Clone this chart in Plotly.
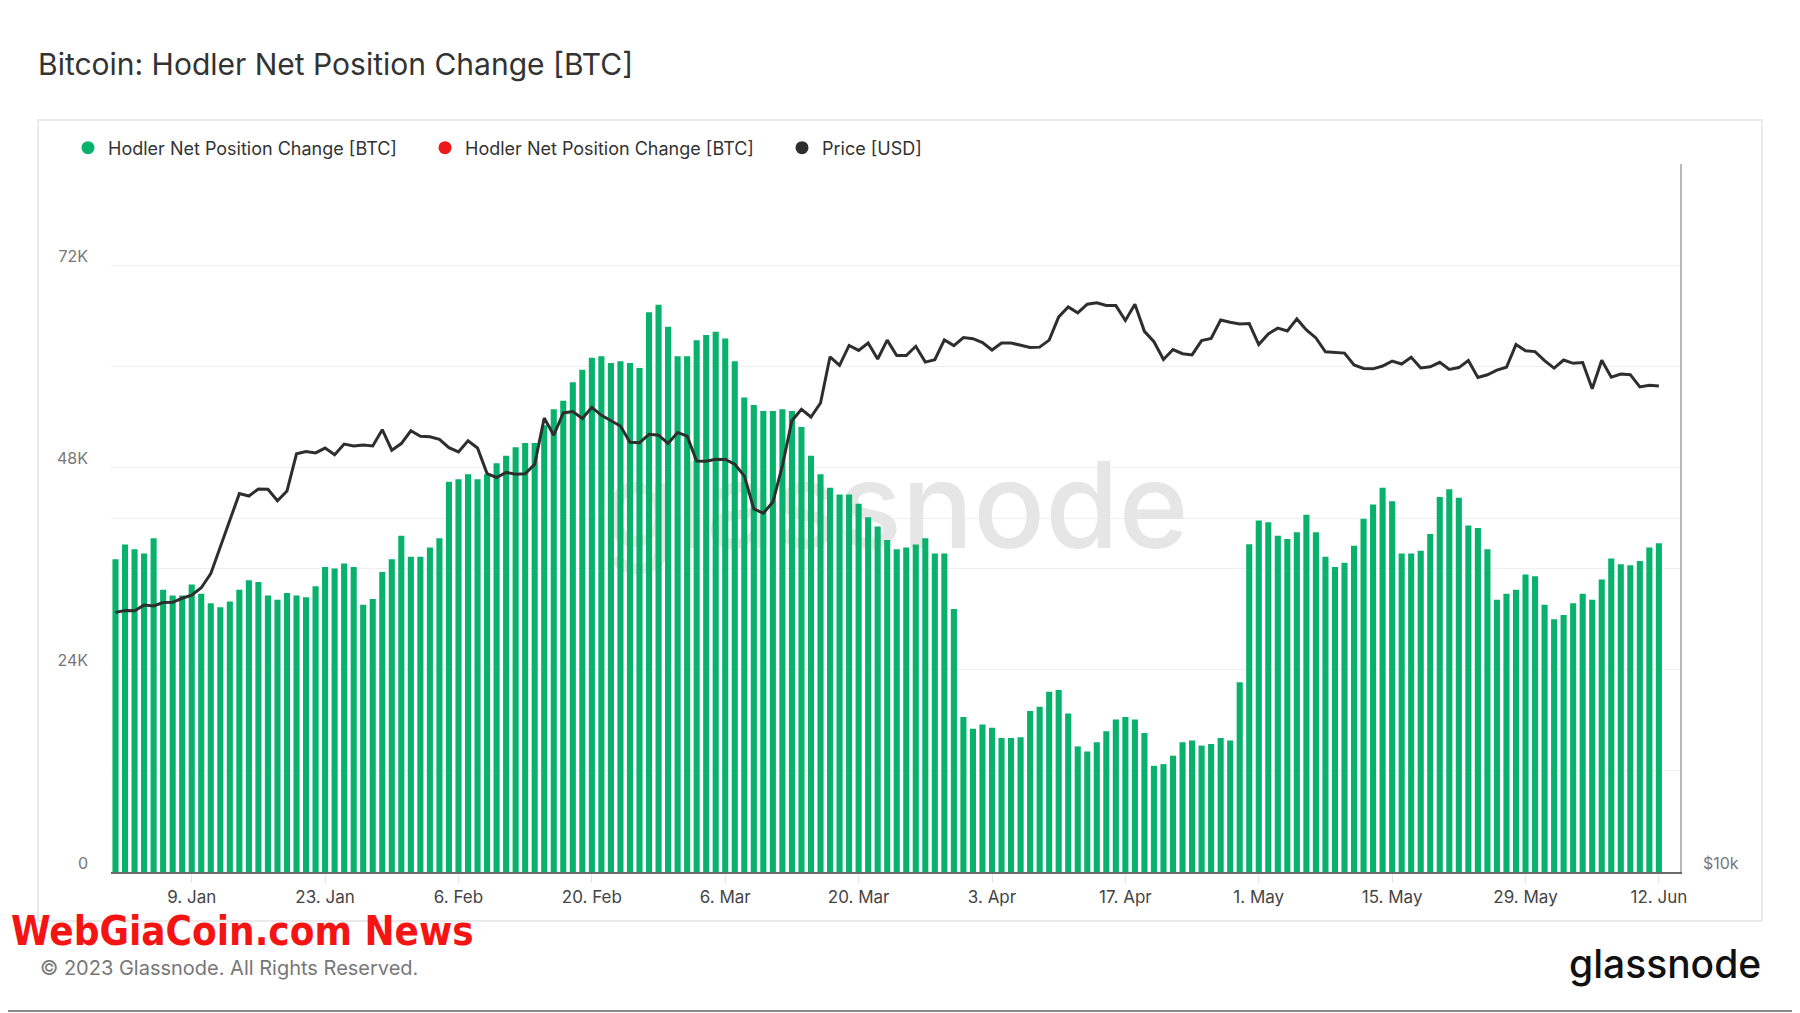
import math
import pandas as pd
import plotly.graph_objects as go

# ---------------- data ----------------
start_date = "2023-01-01"
n_days = 163
dates = pd.date_range(start_date, periods=n_days, freq="D")

# Hodler Net Position Change [BTC], in thousands
net_change_k = [
    37.1, 38.85, 38.3, 37.8, 39.6, 33.5, 32.8, 32.8, 34.1, 33.0,
    31.9, 31.4, 32.1, 33.5, 34.6, 34.4, 32.8, 32.3, 33.1, 32.8,
    32.6, 33.9, 36.2, 36.0, 36.6, 36.2, 31.7, 32.4, 35.6, 37.1,
    39.9, 37.4, 37.4, 38.5, 39.6,
    46.3, 46.6, 47.2, 46.6, 47.2,
    48.5, 49.4, 50.4, 50.9, 50.9, 53.0, 54.9, 55.9, 58.1, 59.6,
    61.0, 61.2, 60.4, 60.6, 60.4, 59.8, 66.4, 67.3, 64.7, 61.2,
    61.2, 63.1, 63.7, 64.1, 63.3, 60.6, 56.3, 55.4,
    54.7, 54.7, 54.9, 54.7, 52.8, 49.4,
    47.2, 45.6, 44.8, 44.8, 43.7, 42.1, 41.0, 39.4, 38.3, 38.5,
    38.85, 39.6, 37.8, 37.8, 31.2,
    18.4, 17.0, 17.5, 17.1, 15.9, 15.9, 16.0, 19.1, 19.6, 21.4,
    21.6, 18.8, 14.9, 14.3, 15.4, 16.7, 18.1, 18.4, 18.1, 16.5,
    12.6, 12.8, 13.8, 15.4, 15.6, 15.0, 15.2, 15.9, 15.6, 22.5,
    38.9, 41.7, 41.5, 39.9, 39.5, 40.3, 42.4, 40.3, 37.4, 36.2,
    36.7, 38.7, 41.9, 43.6, 45.6, 44.0, 37.8, 37.8, 38.1, 40.1,
    44.5, 45.4, 44.4, 41.1, 40.8, 38.3, 32.3, 33.0, 33.5, 35.3,
    35.1, 31.7, 30.0, 30.5, 31.9, 33.0, 32.3, 34.7, 37.2, 36.5,
    36.4, 36.9, 38.5, 39.0,
]

# Price [USD]
price_usd = [
    16625, 16688, 16680, 16863, 16836, 16951, 16955, 17091, 17196, 17446,
    17934, 18869, 19910, 20977, 20880, 21170, 21161, 20688, 21086, 22676,
    22777, 22720, 22934, 22636, 23117, 23033, 23078, 23031, 23774, 22840,
    23139,
    23723, 23471, 23449, 23331, 22955, 22760, 23264, 22939, 21819, 21651,
    21870, 21788, 21808, 22220, 24327, 23517, 24569, 24631, 24307, 24840,
    24451, 24188, 23947, 23199, 23175, 23561, 23523, 23147,
    23646, 23476, 22362, 22354, 22436, 22429, 22219, 21718, 20363, 20187,
    20633, 22163, 24197, 24746, 24375, 25052, 27423, 26965, 28038, 27767,
    28175, 27307, 28333, 27493, 27494, 27994, 27139, 27268, 28348, 28033,
    28478,
    28411, 28199, 27790, 28168, 28177, 28044, 27925, 27947, 28333, 29653,
    30235, 29892, 30400, 30485, 30318, 30315, 29445, 30397, 28823, 28245,
    27276, 27817, 27591, 27525, 28307, 28422, 29473, 29340, 29248, 29268,
    28091, 28680, 29006, 28847, 29534, 28904, 28454, 27694, 27658, 27621,
    26987, 26804, 26784, 26931, 27192, 27036, 27398, 26832, 26890, 27129,
    26754, 26850, 27225, 26334, 26476, 26719, 26868, 28085, 27745, 27702,
    27219,
    26819, 27249, 27075, 27119, 25760, 27238, 26346, 26508, 26480, 25851,
    25940, 25902,
]

left_tick_vals = [0, 12000, 24000, 36000, 48000, 60000, 72000, 84000]
left_tick_text = ["0", "", "24K", "", "48K", "", "72K", ""]
right_tick_vals = [10000, 20000]
right_tick_text = ["$10k", ""]

series_name = "Hodler Net Position Change [BTC]"
price_name = "Price [USD]"

# ---------------- styling ----------------
GREEN = "#08b26c"
RED = "#f01818"
DARK = "#2e2e2e"
FONT = "Inter"

net_change = [v * 1000 for v in net_change_k]
pos_vals = [v if v >= 0 else None for v in net_change]
neg_vals = [v if v < 0 else None for v in net_change]

x_range = [pd.Timestamp("2022-12-31 12:40"), pd.Timestamp("2023-06-14 05:10")]
x_mid = x_range[0] + (x_range[1] - x_range[0]) / 2
y_max = left_tick_vals[-1]

fig = go.Figure()

# watermark (base subplot, drawn beneath the bars)
fig.add_trace(go.Scatter(
    x=[x_mid], y=[y_max / 2], mode="text", text=["glassnode"],
    textfont=dict(family=FONT, size=119, color="#e6e6e6", weight=500),
    textposition="middle center", hoverinfo="skip", showlegend=False,
    xaxis="x", yaxis="y",
))

fig.add_trace(go.Bar(
    x=dates, y=pos_vals, marker=dict(color=GREEN, line=dict(width=0)),
    name=series_name, showlegend=False, xaxis="x", yaxis="y2",
))
fig.add_trace(go.Bar(
    x=dates, y=neg_vals, marker=dict(color=RED, line=dict(width=0)),
    name=series_name, showlegend=False, xaxis="x", yaxis="y2",
))
fig.add_trace(go.Scatter(
    x=dates, y=price_usd, mode="lines",
    line=dict(color=DARK, width=3), name=price_name,
    showlegend=False, xaxis="x", yaxis="y3",
))

# legend entries (circle markers like the original)
for nm, col in [(series_name, GREEN), (series_name, RED), (price_name, DARK)]:
    fig.add_trace(go.Scatter(
        x=[None], y=[None], mode="markers", name=nm,
        marker=dict(color=col, size=13, symbol="circle"),
        xaxis="x", yaxis="y3", showlegend=True,
    ))

# The page body adds an 8px margin, so the figure is laid out 8px smaller.
OFF = 8
W, H = 1800 - OFF, 1013 - OFF
L, T = 111 - OFF, 164 - OFF
R = W - (1680 - OFF)
B = H - (872 - OFF)
pw, ph = W - L - R, H - T - B


def px_x(page_px):
    return (page_px - OFF - L) / pw


def px_y(page_py):
    return (H - B - (page_py - OFF)) / ph


fig.update_layout(
    width=W, height=H,
    margin=dict(l=L, r=R, t=T, b=B, autoexpand=False),
    paper_bgcolor="white", plot_bgcolor="white",
    font=dict(family=FONT, color="#333"),
    barmode="overlay", bargap=0.36,
    title=dict(
        text="Bitcoin: Hodler Net Position Change [BTC]",
        x=(38 - OFF) / W, xref="container", xanchor="left",
        y=1 - (64 - OFF) / H, yref="container", yanchor="middle",
        font=dict(family=FONT, size=30, color="#333"),
    ),
    legend=dict(
        orientation="h", xref="paper", yref="paper",
        x=px_x(68), xanchor="left", y=px_y(148), yanchor="middle",
        font=dict(family=FONT, size=18, color="#333"),
        entrywidth=312, entrywidthmode="pixels",
        bgcolor="rgba(0,0,0,0)", itemclick=False, itemdoubleclick=False,
    ),
    xaxis=dict(
        type="date", range=x_range,
        tick0="2023-01-09", dtick=14 * 86400000, tickformat="%-d. %b",
        showgrid=False, zeroline=False,
        showline=True, linecolor="#6a6a6a", linewidth=2,
        ticks="outside", ticklen=9, tickwidth=1, tickcolor="#e4e4e4",
        tickfont=dict(family=FONT, size=17, color="#444"),
    ),
    yaxis=dict(
        range=[0, y_max], tickvals=left_tick_vals, ticktext=left_tick_text,
        showgrid=True, gridcolor="#efefef", gridwidth=1,
        zeroline=False, showline=False, ticks="",
        ticklabelstandoff=22, ticklabelshift=-9,
        tickfont=dict(family=FONT, size=16, color="#777"),
    ),
    yaxis2=dict(
        range=[0, y_max], overlaying="y", visible=False,
    ),
    yaxis3=dict(
        type="log", overlaying="y", side="right",
        range=[math.log10(10000), math.log10(40000)],
        tickvals=right_tick_vals, ticktext=right_tick_text,
        showgrid=True, gridcolor="#efefef", gridwidth=1,
        zeroline=False, showline=True, linecolor="#b8b8b8", linewidth=1.5,
        ticks="", ticklabelstandoff=18, ticklabelshift=-9,
        tickfont=dict(family=FONT, size=16, color="#777"),
    ),
    shapes=[
        dict(type="rect", xref="paper", yref="paper",
             x0=px_x(38), x1=px_x(1762), y0=px_y(921), y1=px_y(120),
             line=dict(color="#e3e3e3", width=1.5), layer="below"),
        dict(type="line", xref="paper", yref="paper",
             x0=px_x(OFF), x1=px_x(1800), y0=px_y(1011), y1=px_y(1011),
             line=dict(color="#8a8a8a", width=2)),
    ],
    annotations=[
        dict(text="© 2023 Glassnode. All Rights Reserved.",
             xref="paper", yref="paper", x=px_x(38), y=px_y(968),
             xanchor="left", yanchor="middle", showarrow=False,
             font=dict(family=FONT, size=20, color="#777")),
        dict(text="glassnode",
             xref="paper", yref="paper", x=px_x(1763), y=px_y(963),
             xanchor="right", yanchor="middle", showarrow=False,
             font=dict(family=FONT, size=39, color="#111", weight=500)),
        dict(text="<b>WebGiaCoin.com News</b>",
             xref="paper", yref="paper", x=px_x(9), y=px_y(906),
             xanchor="left", yanchor="top", showarrow=False,
             font=dict(family="Liberation Sans Narrow, DejaVu Sans Condensed, sans-serif",
                       size=40, color="#f51414")),
    ],
)

fig.write_html("out.html")
